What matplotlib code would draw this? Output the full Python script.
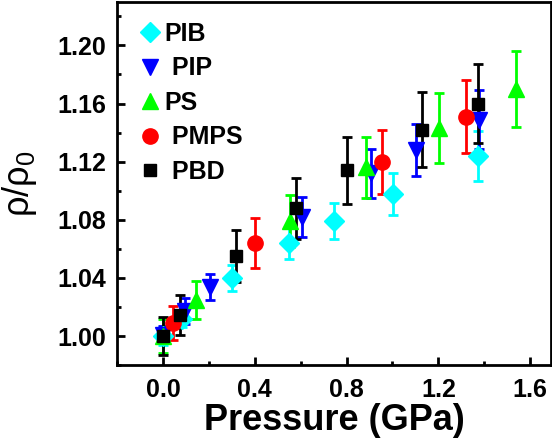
import matplotlib.pyplot as plt
from matplotlib.lines import Line2D
from matplotlib.ticker import MultipleLocator

plt.rcParams['font.family'] = ['Liberation Sans', 'DejaVu Sans']
plt.rcParams['mathtext.fontset'] = 'custom'
plt.rcParams['mathtext.rm'] = 'Liberation Sans'
plt.rcParams['mathtext.default'] = 'regular'

# PIB
pib_x = [0.0, 0.083, 0.30, 0.549, 0.745, 1.004, 1.371]
pib_y = [1.000, 1.012, 1.040, 1.064, 1.079, 1.098, 1.124]
pib_e = [0.006, 0.006, 0.009, 0.011, 0.0125, 0.0145, 0.017]
# PIP
pip_x = [0.0, 0.097, 0.204, 0.607, 0.905, 1.102, 1.378]
pip_y = [1.001, 1.017, 1.034, 1.082, 1.112, 1.128, 1.149]
pip_e = [0.006, 0.009, 0.009, 0.014, 0.017, 0.018, 0.020]
# PS
ps_x = [0.0, 0.145, 0.553, 0.883, 1.204, 1.539]
ps_y = [1.000, 1.025, 1.079, 1.116, 1.143, 1.170]
ps_e = [0.012, 0.013, 0.018, 0.021, 0.024, 0.026]
# PMPS
pmps_x = [0.044, 0.40, 0.953, 1.32]
pmps_y = [1.009, 1.064, 1.120, 1.151]
pmps_e = [0.012, 0.017, 0.022, 0.025]
# PBD
pbd_x = [0.0, 0.073, 0.32, 0.578, 0.803, 1.128, 1.371]
pbd_y = [1.000, 1.0145, 1.055, 1.088, 1.114, 1.142, 1.160]
pbd_e = [0.013, 0.014, 0.018, 0.021, 0.023, 0.026, 0.0275]

series = [
    (pib_x, pib_y, pib_e, 'D', '#00FFFF', 'PIB', 10),
    (pip_x, pip_y, pip_e, 'v', '#0000FF', ' PIP', 12),
    (ps_x, ps_y, ps_e, '^', '#00FF00', 'PS', 12),
    (pmps_x, pmps_y, pmps_e, 'o', '#FF0000', ' PMPS', 11),
    (pbd_x, pbd_y, pbd_e, 's', '#000000', ' PBD', 9),
]

fig = plt.figure(figsize=(5.52, 4.48), dpi=100)
ax = fig.add_axes([0.212, 0.185, 0.786, 0.811])

handles = []
for x, y, e, m, c, lab, ms in series:
    ax.errorbar(x, y, yerr=e, fmt=m, color=c, ms=ms, elinewidth=2,
                capsize=3.5, capthick=2, ecolor=c)
    handles.append(Line2D([], [], ls='none', marker=m, color=c, ms=ms, label=lab))

ax.set_xlim(-0.2, 1.69)
ax.set_ylim(0.98, 1.23)
ax.xaxis.set_major_locator(MultipleLocator(0.4))
ax.xaxis.set_minor_locator(MultipleLocator(0.2))
ax.yaxis.set_major_locator(MultipleLocator(0.04))
ax.yaxis.set_minor_locator(MultipleLocator(0.02))
ax.xaxis.set_major_formatter(plt.FuncFormatter(lambda v, p: '%.1f' % v))
ax.yaxis.set_major_formatter(plt.FuncFormatter(lambda v, p: '%.2f' % v))
ax.tick_params(which='both', direction='in', width=2, labelsize=18, top=False, right=False)
ax.tick_params(which='major', length=6)
ax.tick_params(axis='y', which='major', pad=8)
ax.tick_params(axis='x', which='major', pad=9)
ax.tick_params(which='minor', length=3)
for lbl in ax.get_xticklabels() + ax.get_yticklabels():
    lbl.set_fontweight('bold')
for s in ax.spines.values():
    s.set_linewidth(2)

ax.set_xlabel('Pressure (GPa)', fontsize=26, fontweight='bold', labelpad=1)
ax.set_ylabel(r'$\rho/\rho_0$', fontsize=26, labelpad=13)

leg = ax.legend(handles=handles, loc='upper left', frameon=False,
                prop={'size': 18, 'weight': 'bold'}, handletextpad=0.1,
                labelspacing=0.42, borderaxespad=0.4, handlelength=1.0)

fig.savefig('out.png', dpi=100)
